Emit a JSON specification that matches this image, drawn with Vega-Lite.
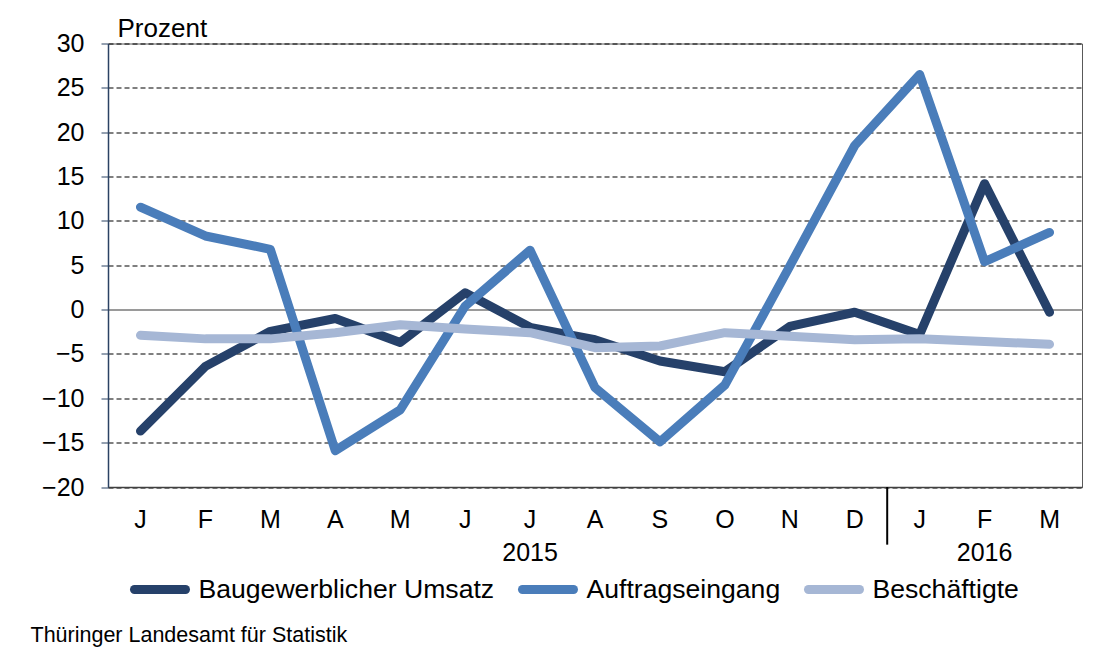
{
  "$schema": "https://vega.github.io/schema/vega-lite/v6.json",
  "width": 974,
  "height": 443.5,
  "autosize": "none",
  "padding": {"left": 108, "top": 43.5, "right": 19, "bottom": 165},
  "config": {
    "font": "Liberation Sans",
    "view": {"stroke": "#595959", "strokeWidth": 1},
    "background": "white"
  },
  "title": {
    "text": "Veränderung gegenüber dem Vorjahresmonat",
    "fontSize": 27,
    "fontWeight": "bold",
    "color": "black",
    "anchor": "middle",
    "frame": "group",
    "baseline": "alphabetic",
    "dx": -44.5,
    "offset": 18
  },
  "layer": [
    {
      "data": {
        "values": [
          {"monat": "2015-01", "reihe": "Baugewerblicher Umsatz", "wert": -13.7},
          {"monat": "2015-02", "reihe": "Baugewerblicher Umsatz", "wert": -6.4},
          {"monat": "2015-03", "reihe": "Baugewerblicher Umsatz", "wert": -2.45},
          {"monat": "2015-04", "reihe": "Baugewerblicher Umsatz", "wert": -1.0},
          {"monat": "2015-05", "reihe": "Baugewerblicher Umsatz", "wert": -3.7},
          {"monat": "2015-06", "reihe": "Baugewerblicher Umsatz", "wert": 1.9},
          {"monat": "2015-07", "reihe": "Baugewerblicher Umsatz", "wert": -2.0},
          {"monat": "2015-08", "reihe": "Baugewerblicher Umsatz", "wert": -3.4},
          {"monat": "2015-09", "reihe": "Baugewerblicher Umsatz", "wert": -5.8},
          {"monat": "2015-10", "reihe": "Baugewerblicher Umsatz", "wert": -7.0},
          {"monat": "2015-11", "reihe": "Baugewerblicher Umsatz", "wert": -1.9},
          {"monat": "2015-12", "reihe": "Baugewerblicher Umsatz", "wert": -0.3},
          {"monat": "2016-01", "reihe": "Baugewerblicher Umsatz", "wert": -2.8},
          {"monat": "2016-02", "reihe": "Baugewerblicher Umsatz", "wert": 14.2},
          {"monat": "2016-03", "reihe": "Baugewerblicher Umsatz", "wert": -0.3},
          {"monat": "2015-01", "reihe": "Auftragseingang", "wert": 11.55},
          {"monat": "2015-02", "reihe": "Auftragseingang", "wert": 8.3},
          {"monat": "2015-03", "reihe": "Auftragseingang", "wert": 6.8},
          {"monat": "2015-04", "reihe": "Auftragseingang", "wert": -15.9},
          {"monat": "2015-05", "reihe": "Auftragseingang", "wert": -11.3},
          {"monat": "2015-06", "reihe": "Auftragseingang", "wert": 0.4},
          {"monat": "2015-07", "reihe": "Auftragseingang", "wert": 6.7},
          {"monat": "2015-08", "reihe": "Auftragseingang", "wert": -8.8},
          {"monat": "2015-09", "reihe": "Auftragseingang", "wert": -14.9},
          {"monat": "2015-10", "reihe": "Auftragseingang", "wert": -8.5},
          {"monat": "2015-11", "reihe": "Auftragseingang", "wert": 4.9},
          {"monat": "2015-12", "reihe": "Auftragseingang", "wert": 18.5},
          {"monat": "2016-01", "reihe": "Auftragseingang", "wert": 26.5},
          {"monat": "2016-02", "reihe": "Auftragseingang", "wert": 5.4},
          {"monat": "2016-03", "reihe": "Auftragseingang", "wert": 8.7},
          {"monat": "2015-01", "reihe": "Beschäftigte", "wert": -2.9},
          {"monat": "2015-02", "reihe": "Beschäftigte", "wert": -3.3},
          {"monat": "2015-03", "reihe": "Beschäftigte", "wert": -3.3},
          {"monat": "2015-04", "reihe": "Beschäftigte", "wert": -2.6},
          {"monat": "2015-05", "reihe": "Beschäftigte", "wert": -1.7},
          {"monat": "2015-06", "reihe": "Beschäftigte", "wert": -2.2},
          {"monat": "2015-07", "reihe": "Beschäftigte", "wert": -2.6},
          {"monat": "2015-08", "reihe": "Beschäftigte", "wert": -4.3},
          {"monat": "2015-09", "reihe": "Beschäftigte", "wert": -4.1},
          {"monat": "2015-10", "reihe": "Beschäftigte", "wert": -2.6},
          {"monat": "2015-11", "reihe": "Beschäftigte", "wert": -3.0},
          {"monat": "2015-12", "reihe": "Beschäftigte", "wert": -3.4},
          {"monat": "2016-01", "reihe": "Beschäftigte", "wert": -3.3},
          {"monat": "2016-02", "reihe": "Beschäftigte", "wert": -3.6},
          {"monat": "2016-03", "reihe": "Beschäftigte", "wert": -3.9}
        ]
      },
      "mark": {"type": "line", "strokeWidth": 9, "strokeCap": "round", "strokeJoin": "round"},
      "encoding": {
        "x": {
          "field": "monat",
          "type": "ordinal",
          "bandPosition": 0.5,
          "scale": {"type": "band", "paddingInner": 0, "paddingOuter": 0},
          "axis": {
            "title": "Thüringer Landesamt für Statistik",
            "titleFontSize": 21.5,
            "titleFontWeight": "normal",
            "titleColor": "black",
            "titleAnchor": "start",
            "titleAlign": "left",
            "titleBaseline": "alphabetic",
            "titleX": -78,
            "titleY": 154,
            "labelAngle": 0,
            "labelFontSize": 25,
            "labelColor": "black",
            "labelPadding": 20,
            "labelLineHeight": 33,
            "labelOverlap": false,
            "ticks": false,
            "tickSize": 0,
            "domainColor": "#404040",
            "domainWidth": 1.5,
            "grid": false,
            "labelExpr": "datum.value == '2015-07' ? ['J', '2015'] : datum.value == '2016-02' ? ['F', '2016'] : substring('JFMAMJJASOND', toNumber(substring(datum.value, 5, 7)) - 1, toNumber(substring(datum.value, 5, 7)))"
          }
        },
        "y": {
          "field": "wert",
          "type": "quantitative",
          "scale": {"domain": [-20, 30], "nice": false, "zero": false},
          "axis": {
            "values": [-20, -15, -10, -5, 0, 5, 10, 15, 20, 25, 30],
            "title": "Prozent",
            "titleAngle": 0,
            "titleAlign": "left",
            "titleBaseline": "alphabetic",
            "titleX": 9,
            "titleY": -7,
            "titleFontSize": 26,
            "titleFontWeight": "normal",
            "titleColor": "black",
            "labelFontSize": 25,
            "labelColor": "black",
            "labelPadding": 17,
            "tickSize": 7,
            "tickColor": "#2b4263",
            "domainColor": "#2b4263",
            "domainWidth": 1.5,
            "grid": true,
            "gridColor": {"condition": {"test": "datum.value === 0", "value": "#9a9a9a"}, "value": "#000000"},
            "gridDash": {"condition": {"test": "datum.value === 0", "value": []}, "value": [5, 3]},
            "gridWidth": {"condition": {"test": "datum.value === 0", "value": 2}, "value": 1.2}
          }
        },
        "color": {
          "field": "reihe",
          "type": "nominal",
          "sort": null,
          "scale": {
            "domain": ["Baugewerblicher Umsatz", "Auftragseingang", "Beschäftigte"],
            "range": ["#26416a", "#4a7dba", "#a6b7d5"]
          },
          "legend": {
            "orient": "none",
            "direction": "horizontal",
            "legendX": 22,
            "legendY": 516,
            "title": null,
            "padding": 0,
            "labelFontSize": 26.6,
            "labelLimit": 0,
            "labelColor": "black",
            "symbolType": "stroke",
            "symbolStrokeWidth": 9,
            "symbolSize": 2601,
            "labelOffset": 8.5,
            "columnPadding": 9,
            "encode": {"symbols": {"update": {"strokeCap": {"value": "round"}}}}
          }
        }
      }
    },
    {
      "data": {"values": [{"grenze": "Jahreswechsel"}]},
      "mark": {"type": "rule", "color": "black", "strokeWidth": 2},
      "encoding": {
        "x": {"datum": "2016-01", "type": "ordinal", "bandPosition": 0},
        "y": {"datum": -20, "type": "quantitative"},
        "y2": {"datum": -26.5}
      }
    }
  ]
}
